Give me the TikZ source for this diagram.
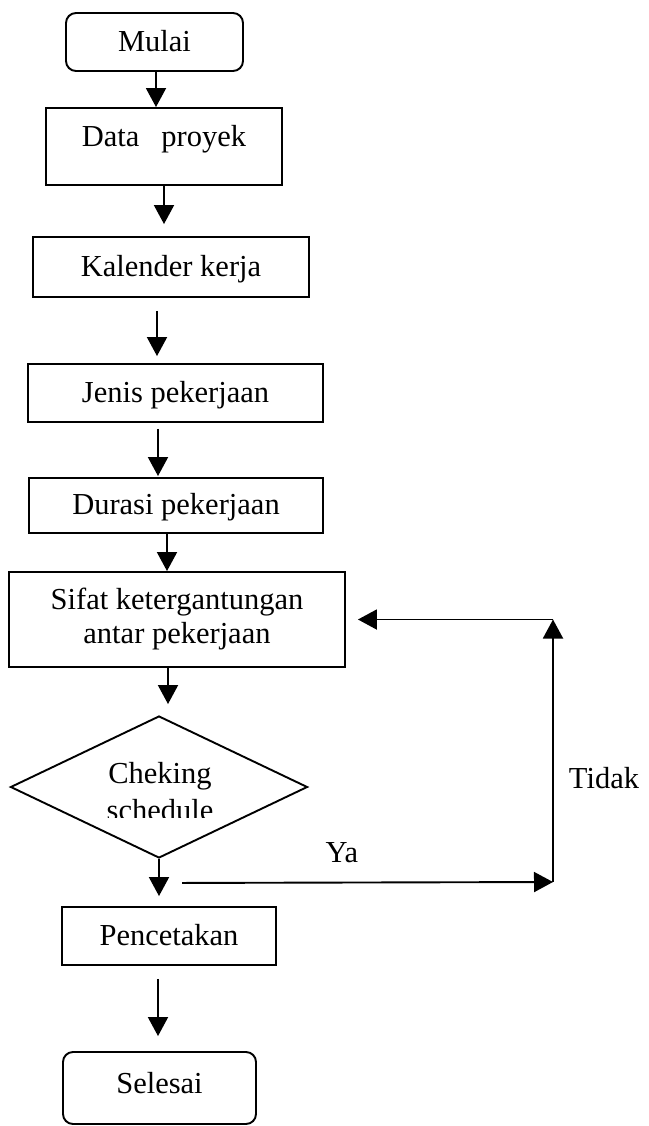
\documentclass[tikz,border=0pt]{standalone}
\usepackage{fontspec}
\setmainfont{Liberation Serif}
\usetikzlibrary{arrows.meta,shapes.geometric}
\begin{document}
\begin{tikzpicture}[x=1pt,y=-1pt,
  every node/.style={font=\fontsize{30.5}{36}\selectfont},
  box/.style={draw, line width=1.9pt, inner sep=0pt, text height=20pt, text depth=2pt},
  term/.style={box, rounded corners=10pt},
  arr/.style={line width=1.9pt, -{Triangle[length=19pt,width=20pt]}},
  ]
\useasboundingbox (0,0) rectangle (648,1126);

% process chain
\node[term, minimum width=177pt, minimum height=58pt, text depth=0pt] (mulai) at (154.5,42) {Mulai};
\node[box, minimum width=236pt, minimum height=77pt, text depth=19pt] (data) at (164,146.5) {Data\hspace{22pt}proyek};
\node[box, minimum width=276pt, minimum height=60pt] (kal) at (171,267) {Kalender kerja};
\node[box, minimum width=295pt, minimum height=58pt] (jenis) at (175.5,393) {Jenis pekerjaan};
\node[box, minimum width=294pt, minimum height=55pt] (durasi) at (176,505.5) {Durasi pekerjaan};
\node[draw, line width=1.9pt, inner sep=0pt, minimum width=336pt, minimum height=95pt,
      align=center, font=\fontsize{30.5}{34}\selectfont] (sifat) at (177,619.5)
      {Sifat ketergantungan\\antar pekerjaan};
\node[diamond, draw, line width=1.9pt, inner sep=0pt, minimum width=297pt, minimum height=142pt] (cek) at (159,787) {};
\begin{scope}
  \clip (0,700) rectangle (648,817);
  \node[anchor=base] (cek1) at (160,783) {Cheking};
  \node[anchor=base] (cek2) at (160,820) {schedule};
\end{scope}
\node[box, minimum width=214pt, minimum height=58pt] (cetak) at (169,936) {Pencetakan};
\node[term, minimum width=193pt, minimum height=72pt, text depth=10pt] (selesai) at (159.5,1088) {Selesai};

% downward flow
\draw[arr] ([xshift=1.5pt]mulai.south) -- ([xshift=-8pt]data.north);
\draw[arr] (data.south) -- ([xshift=-7pt,yshift=12pt]kal.north);
\draw[arr] ([xshift=-14pt,yshift=-13pt]kal.south) -- ([xshift=-18.5pt,yshift=7pt]jenis.north);
\draw[arr] ([xshift=-17.5pt,yshift=-6pt]jenis.south) -- ([xshift=-18pt,yshift=1pt]durasi.north);
\draw[arr] ([xshift=-9pt]durasi.south) -- ([xshift=-10pt]sifat.north);
\draw[arr] ([xshift=-9pt]sifat.south) -- ([xshift=9pt,yshift=11pt]cek.north);
\draw[arr] (cek.south) -- ([xshift=-10pt,yshift=10pt]cetak.north);
\draw[arr] ([xshift=-11pt,yshift=-13pt]cetak.south) -- ([xshift=-1.5pt,yshift=15pt]selesai.north);

% feedback loop
\coordinate (ya0) at ([xshift=23pt,yshift=-24pt]cek.south);
\coordinate (c1) at (553,882);
\coordinate (c2) at (553,619.5);
\draw[arr] (ya0) -- (c1);
\draw[arr] (c1) -- (c2);
\draw[arr] (c2) -- ([xshift=12pt]sifat.east);

\node[anchor=base] (tidak) at (604,788) {Tidak};
\node[anchor=base] (ya) at (342,862) {Ya};
\end{tikzpicture}
\end{document}
